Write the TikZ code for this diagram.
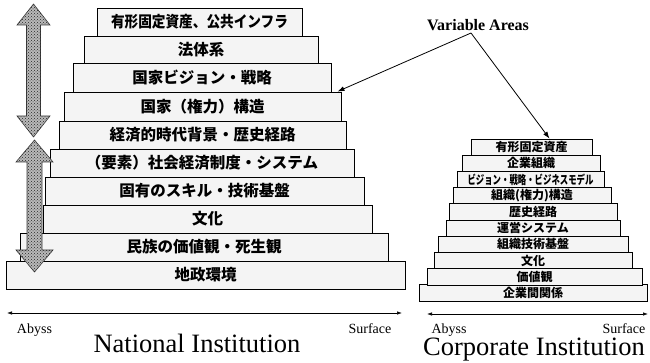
\documentclass[tikz,border=0pt]{standalone}
\usepackage{fontspec}
\setmainfont{Liberation Serif}
\newfontfamily\jp{Noto Sans CJK JP}
\usetikzlibrary{arrows.meta,patterns}
\begin{document}
\begin{tikzpicture}[x=1pt,y=-1pt,
  nbox/.style={draw=black, line width=0.9pt, fill=gray!9, inner sep=0pt, minimum height=28pt,
    font=\jp\bfseries\fontsize{15.5}{16}\selectfont, text=black},
  cbox/.style={draw=black, line width=0.7pt, fill=gray!9, inner sep=0pt, minimum height=16.3pt,
    font=\jp\bfseries\fontsize{12}{13}\selectfont, text=black},
  bigarrow/.style={draw=gray!45!black, line width=0.6pt, fill=gray!55,
    postaction={pattern=crosshatch dots, pattern color=black!85}},
  axislabel/.style={font=\fontsize{14}{16}\selectfont, anchor=base},
  title/.style={font=\fontsize{26.5}{30}\selectfont, anchor=base},
  axis/.style={line width=0.7pt, {Latex[length=5pt,width=3.5pt]}-{Latex[length=5pt,width=3.5pt]}},
  pointer/.style={line width=0.8pt, -{Latex[length=7pt,width=5pt]}, draw=black}
]
\useasboundingbox (0,0) rectangle (650,363);

% National pyramid
\node[nbox, minimum width=399pt] (L10) at (205.5,275) {地政環境};
\node[nbox, minimum width=368pt] (L9) at (204,247) {民族の価値観・死生観};
\node[nbox, minimum width=329pt] (L8) at (207.5,219) {文化};
\node[nbox, minimum width=319pt] (L7) at (204.5,191) {固有のスキル・技術基盤};
\node[nbox, minimum width=304pt] (L6) at (202,163) {（要素）社会経済制度・システム};
\node[nbox, minimum width=287pt] (L5) at (202.5,135) {経済的時代背景・歴史経路};
\node[nbox, minimum width=277pt, minimum height=29pt] (L4) at (202.5,106.5) {国家（権力）構造};
\node[nbox, minimum width=258pt, minimum height=29pt] (L3) at (202,77.5) {国家ビジョン・戦略};
\node[nbox, minimum width=234pt, minimum height=27pt] (L2) at (201,49.5) {法体系};
\node[nbox, minimum width=205pt] (L1) at (199.5,22) {\scalebox{0.88}[1]{有形固定資産、公共インフラ}};

% double arrows
\path[bigarrow] (33.5,4) -- (50,25) -- (40.5,25) -- (40.5,116) -- (50,116) -- (33.5,137)
  -- (17,116) -- (26.5,116) -- (26.5,25) -- (17,25) -- cycle;
\path[bigarrow] (34.5,140) -- (53,162) -- (42,162) -- (42,250) -- (53,250) -- (34.5,272)
  -- (16,250) -- (27,250) -- (27,162) -- (16,162) -- cycle;

% Corporate pyramid
\node[cbox, minimum width=228pt, minimum height=17pt] (C10) at (533,293.2) {企業間関係};
\node[cbox, minimum width=215pt] (C9) at (534.5,276.7) {価値観};
\node[cbox, minimum width=198pt] (C8) at (533,260.5) {文化};
\node[cbox, minimum width=190pt] (C7) at (533,244.3) {組織技術基盤};
\node[cbox, minimum width=174pt] (C6) at (533,228.1) {運営システム};
\node[cbox, minimum width=168pt] (C5) at (533,211.9) {歴史経路};
\node[cbox, minimum width=158pt] (C4) at (532,195.7) {組織(権力)構造};
\node[cbox, minimum width=147pt] (C3) at (530.5,179.5) {\scalebox{0.7}[1]{ビジョン・戦略・ビジネスモデル}};
\node[cbox, minimum width=138pt] (C2) at (531,163.3) {企業組織};
\node[cbox, minimum width=121pt] (C1) at (531.5,147.1) {有形固定資産};

% Variable Areas
\node[font=\bfseries\fontsize{16}{18}\selectfont, inner sep=0pt] (VA) at (478,25) {Variable Areas};
\coordinate (apex) at (471,33);
\draw[pointer] (apex) -- ([xshift=-4pt]L4.north east);
\draw[pointer] (apex) -- ([xshift=18pt]C1.north);

% axes
\coordinate (nA) at (7,313);
\coordinate (nS) at (402,313);
\coordinate (cA) at (427,314);
\coordinate (cS) at (648,314);
\draw[axis] (nA) -- (nS);
\draw[axis] (cA) -- (cS);
\node[axislabel] (nAbyss) at (34.5,333) {Abyss};
\node[axislabel] (nSurface) at (370,333) {Surface};
\node[axislabel] (cAbyss) at (449,333) {Abyss};
\node[axislabel] (cSurface) at (624,333) {Surface};

\node[title] (NI) at (197,352) {National Institution};
\node[title] (CI) at (534,355.5) {Corporate Institution};
\end{tikzpicture}
\end{document}
